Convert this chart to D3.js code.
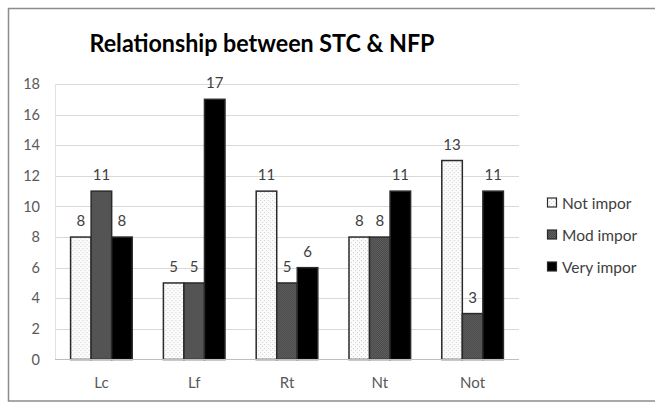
<!DOCTYPE html>
<html><head><meta charset="utf-8">
<script src="https://cdn.jsdelivr.net/npm/d3@7"></script>
<style>body{margin:0;background:#fff}svg{display:block}</style>
</head><body>
<script>
const categories = ["Lc","Lf","Rt","Nt","Not"];
const seriesNames = ["Not impor","Mod impor","Very impor"];
const notImpor  = [8,5,11,8,13];
const modImpor  = [11,5,5,8,3];
const veryImpor = [8,17,6,11,11];
const yTicks = [0,2,4,6,8,10,12,14,16,18];
const title = "Relationship between STC & NFP";

const seriesValues = [notImpor, modImpor, veryImpor];
const W = 655, H = 403;
const font = "Lato, 'Open Sans', sans-serif";
const svg = d3.select("body").append("svg").attr("width", W).attr("height", H);

const defs = svg.append("defs");
const p1 = defs.append("pattern").attr("id","dots").attr("patternUnits","userSpaceOnUse").attr("width",4).attr("height",4);
p1.append("rect").attr("width",4).attr("height",4).attr("fill","#fbfbfb");
p1.append("rect").attr("x",0).attr("y",0).attr("width",1).attr("height",1).attr("fill","#d0d0d0");
p1.append("rect").attr("x",2).attr("y",2).attr("width",1).attr("height",1).attr("fill","#d0d0d0");
const p2 = defs.append("pattern").attr("id","hatch").attr("patternUnits","userSpaceOnUse").attr("width",2).attr("height",2);
p2.append("rect").attr("width",2).attr("height",2).attr("fill","#5e5e5e");
p2.append("rect").attr("width",1).attr("height",1).attr("fill","#4a4a4a");
p2.append("rect").attr("x",1).attr("y",1).attr("width",1).attr("height",1).attr("fill","#4a4a4a");
const fills = ["url(#dots)","url(#hatch)","#000"];

// chart frame
svg.append("rect").attr("x",8.5).attr("y",8.5).attr("width",660).attr("height",392.5)
  .attr("fill","none").attr("stroke","#8c8c8c").attr("stroke-width",1.5);

const m = {left:55, right:519, top:84, bottom:359.5};
const x0 = d3.scaleBand().domain(categories).range([m.left, m.right]).paddingInner(0.336).paddingOuter(0.168);
const x1 = d3.scaleBand().domain(seriesNames).range([0, x0.bandwidth()]);
const y = d3.scaleLinear().domain([0,18]).range([m.bottom, m.top]);

// gridlines
svg.append("g").selectAll("line").data(yTicks.filter(d=>d>0)).join("line")
  .attr("x1",m.left).attr("x2",m.right).attr("y1",d=>Math.round(y(d))+0.5).attr("y2",d=>Math.round(y(d))+0.5)
  .attr("stroke","#d9d9d9").attr("stroke-width",1);
svg.append("line").attr("x1",m.left+0.5).attr("x2",m.left+0.5).attr("y1",m.top).attr("y2",m.bottom)
  .attr("stroke","#e2e2e2");

// y axis
const yAxis = svg.append("g").attr("transform",`translate(${m.left},0)`)
  .call(d3.axisLeft(y).tickValues(yTicks).tickSize(0).tickPadding(15));
yAxis.select(".domain").remove();
yAxis.selectAll("text").attr("font-family",font).attr("font-size",14.5).attr("fill","#595959");

// bars
const groups = svg.append("g").selectAll("g").data(categories).join("g")
  .attr("transform",c=>`translate(${x0(c)},0)`);
groups.selectAll("rect").data((c,i)=>seriesNames.map((s,j)=>({s,j,v:seriesValues[j][i]}))).join("rect")
  .attr("x",d=>x1(d.s)).attr("width",x1.bandwidth())
  .attr("y",d=>y(d.v)).attr("height",d=>y(0)-y(d.v))
  .attr("fill",d=>fills[d.j]).attr("stroke","#2a2a2a").attr("stroke-width",1.5);
groups.selectAll("text").data((c,i)=>seriesNames.map((s,j)=>({s,j,v:seriesValues[j][i]}))).join("text")
  .attr("x",d=>x1(d.s)+x1.bandwidth()/2).attr("y",d=>y(d.v)-11)
  .attr("text-anchor","middle").attr("font-family",font).attr("font-size",15).attr("fill","#404040")
  .text(d=>d.v);

// baseline
svg.append("line").attr("x1",m.left).attr("x2",m.right).attr("y1",m.bottom).attr("y2",m.bottom)
  .attr("stroke","#bfbfbf");

// x axis
const xAxis = svg.append("g").attr("transform",`translate(0,${m.bottom})`)
  .call(d3.axisBottom(x0).tickSize(0).tickPadding(18));
xAxis.select(".domain").remove();
xAxis.selectAll("text").attr("font-family",font).attr("font-size",15).attr("fill","#595959");

// title
svg.append("text").attr("x",262).attr("y",52).attr("text-anchor","middle")
  .attr("font-family",font).attr("font-weight","bold").attr("font-size",25).attr("fill","#000")
  .attr("textLength",345).attr("lengthAdjust","spacingAndGlyphs").text(title);

// legend
const lg = svg.append("g").selectAll("g").data(seriesNames).join("g")
  .attr("transform",(d,i)=>`translate(547,${203+i*32})`);
lg.append("rect").attr("x",0.5).attr("y",-5).attr("width",9).attr("height",9)
  .attr("fill",(d,i)=>fills[i]).attr("stroke","#2a2a2a").attr("stroke-width",1.2);
lg.append("text").attr("x",15).attr("y",5.5).attr("font-family",font).attr("font-size",15.5).attr("fill","#404040")
  .text(d=>d);
</script>
</body></html>
